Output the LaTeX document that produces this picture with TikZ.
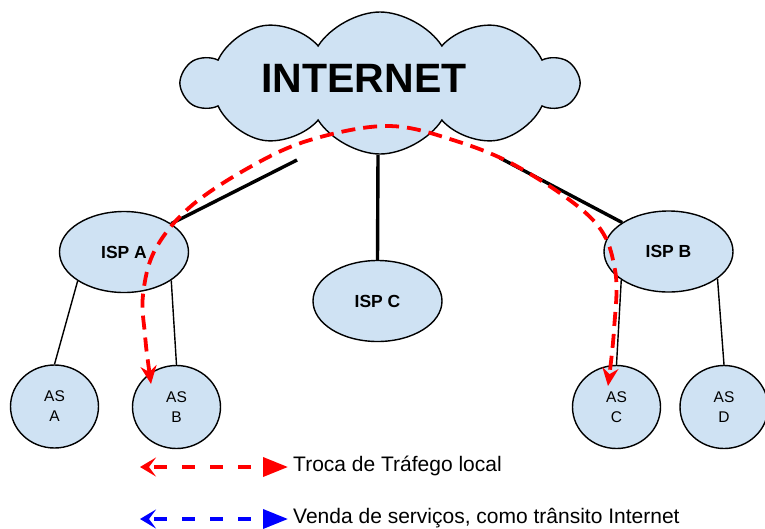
\documentclass[tikz,border=0pt]{standalone}
\usepackage{fontspec}
\setmainfont{Liberation Sans}
\usetikzlibrary{shapes.geometric, shapes.symbols, arrows.meta}
\definecolor{nodeblue}{HTML}{CFE2F3}

\begin{document}
\begin{tikzpicture}[x=1pt, y=-1pt,
	box/.style={draw, fill=nodeblue, line width=1.4pt},
	isp/.style={box, ellipse, minimum width=129pt, minimum height=81pt, font=\bfseries\fontsize{17.5}{20}\selectfont},
	as/.style={box, ellipse, minimum width=88pt, minimum height=83pt, align=center, font=\fontsize{15.5}{20}\selectfont},
	thin link/.style={line width=1.4pt},
	thick link/.style={line width=3.4pt},
	traffic/.style={color=red, line width=3.8pt, dash pattern=on 14pt off 8pt},
	legline/.style={line width=3.6pt, dash pattern=on 13pt off 15pt, dash phase=-6pt, {Stealth[length=16pt,width=19pt,inset=7pt]}-{Triangle[length=25pt,width=19pt]}},
	legtext/.style={anchor=west, inner sep=0pt, font=\fontsize{21}{25}\selectfont}]

	\useasboundingbox (0,0) rectangle (765,528);

	% internet cloud

	\node[box, cloud, cloud puffs=10, cloud puff arc=115, aspect=2.8, minimum width=394pt, minimum height=142pt, inner sep=0pt,
		label={[xshift=-16pt, yshift=5pt, font=\bfseries\fontsize{41}{45}\selectfont]center:INTERNET}] (internet) at (380,83) {};

	% providers

	\node[isp] (ispa) at (124,252) {ISP A};
	\node[isp] (ispc) at (377.5,301) {ISP C};
	\node[isp] (ispb) at (668.5,251.5) {ISP B};

	% autonomous systems

	\node[as] (asa) at (54.5,406.5) {AS\\A};
	\node[as] (asb) at (176.5,407) {AS\\B};
	\node[as] (asc) at (616.5,407) {AS\\C};
	\node[as] (asd) at (724,407) {AS\\D};

	% links to the internet

	\coordinate (upa) at (297,160);
	\coordinate (upc) at (378,155);
	\coordinate (upb) at (500,158);
	\draw[thick link] (upa) -- (ispa.31);
	\draw[thick link] (upc) -- (ispc.north);
	\draw[thick link] (upb) -- (ispb.148);

	% links to the customers

	\draw[thin link] (ispa.212) -- (asa.north);
	\draw[thin link] (ispa.329) -- (asb.north);
	\draw[thin link] (ispb.211) -- (asc.north);
	\draw[thin link] (ispb.331) -- (asd.north);

	% local traffic exchange

	\coordinate (tipb) at (151,384);
	\coordinate (tipc) at (608,386);
	\draw[traffic, {Stealth[length=18pt,width=16pt,inset=6pt]}-{Stealth[length=18pt,width=16pt,inset=6pt]}]
		plot[smooth, tension=0.6] coordinates {(tipb) (145,335) (143,295) (155,250) (190,207) (250,167) (310,140) (387,126) (453,140) (520,168) (593,220) (615,270) (614,330) (tipc)};

	% legend

	\coordinate (redl) at (140,467);
	\coordinate (redr) at (288,467);
	\coordinate (bluel) at (140,519);
	\coordinate (bluer) at (288,519);
	\draw[legline, color=red] (redl) -- (redr);
	\draw[legline, color=blue] (bluel) -- (bluer);
	\node[legtext] (trocatxt) at (293,466) {Troca de Tráfego local};
	\node[legtext] (vendatxt) at (293,518) {Venda de serviços, como trânsito Internet};

\end{tikzpicture}
\end{document}
